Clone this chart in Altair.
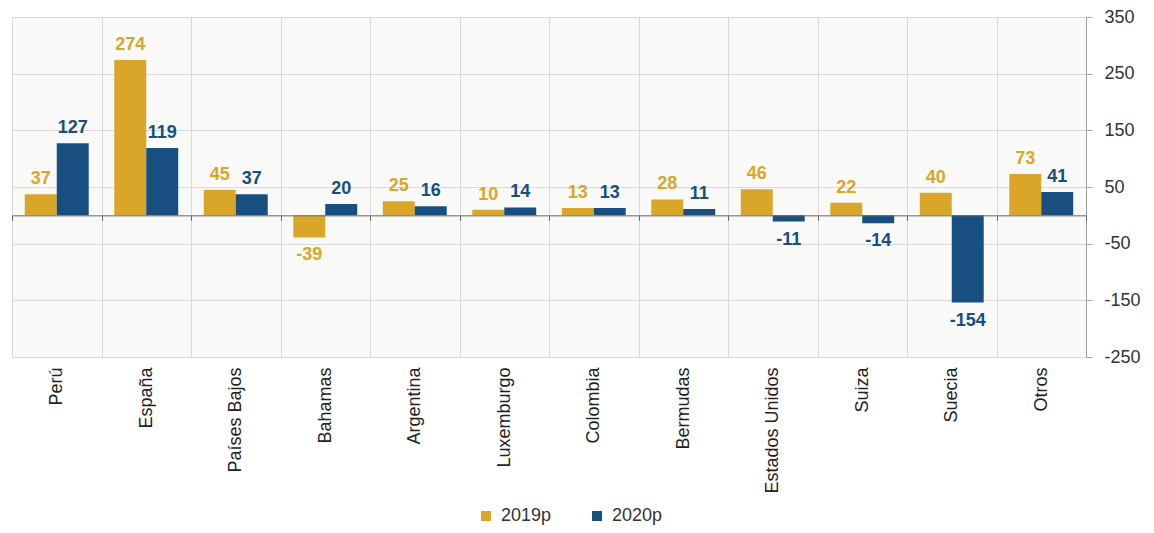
import altair as alt
import pandas as pd

countries = ["Perú", "España", "Países Bajos", "Bahamas", "Argentina", "Luxemburgo",
             "Colombia", "Bermudas", "Estados Unidos", "Suiza", "Suecia", "Otros"]
v2019 = [37, 274, 45, -39, 25, 10, 13, 28, 46, 22, 40, 73]
v2020 = [127, 119, 37, 20, 16, 14, 13, 11, -11, -14, -154, 41]
series = ["2019p", "2020p"]
colors = ["#D9A62A", "#174F80"]
y_ticks = [-250, -150, -50, 50, 150, 250, 350]

rows = []
for c, a, b in zip(countries, v2019, v2020):
    rows.append({"pais": c, "serie": series[0], "valor": a})
    rows.append({"pais": c, "serie": series[1], "valor": b})
df = pd.DataFrame(rows)

FONT = "Liberation Sans"
W, H = 1074, 340
zero_from_bottom = H * 250 / 600

xscale = alt.Scale(domain=countries, paddingInner=0, paddingOuter=0)
xoff_scale = alt.Scale(domain=series, paddingInner=0, paddingOuter=0.4)
yscale = alt.Scale(domain=[-250, 350], nice=False, zero=False)
cscale = alt.Scale(domain=series, range=colors)

color = alt.Color("serie:N", scale=cscale,
                  legend=alt.Legend(title=None, orient="none", legendX=465, legendY=490,
                                    direction="horizontal",
                                    symbolType="square", symbolSize=100,
                                    symbolStrokeWidth=0,
                                    labelFontSize=18, labelColor="#333333",
                                    labelFont=FONT, columnPadding=36, labelOffset=6))
y_axis = alt.Axis(orient="right", values=y_ticks, title=None, labelFontSize=18,
                  labelColor="#333333", labelFont=FONT, domainColor="#A0A0A0",
                  tickColor="#A0A0A0", tickSize=6, gridColor="#D9D9D9", labelPadding=12,
                  labelExpr="'' + datum.value")

base = alt.Chart(df).transform_calculate(lab="'' + datum.valor")

bars = base.mark_bar().encode(
    x=alt.X("pais:N", sort=countries, scale=xscale,
            axis=alt.Axis(title=None, labelAngle=-90, labelFontSize=18, labelFont=FONT,
                          labelColor="#222222", domain=False, ticks=False,
                          grid=True, gridColor="#D9D9D9", tickBand="extent",
                          labelPadding=10)),
    xOffset=alt.XOffset("serie:N", sort=series, scale=xoff_scale),
    y=alt.Y("valor:Q", scale=yscale, axis=y_axis),
    color=color,
)

pos = base.transform_filter("datum.valor >= 0").mark_text(
    baseline="alphabetic", dy=-10, fontSize=18, fontWeight="bold", font=FONT
).encode(
    x=alt.X("pais:N", sort=countries, scale=xscale,
            axis=alt.Axis(title=None, orient="bottom", offset=-zero_from_bottom,
                          labels=False, grid=False, domainColor="#666666",
                          tickColor="#666666", tickSize=5, tickBand="extent",
                          zindex=1)),
    xOffset=alt.XOffset("serie:N", sort=series, scale=xoff_scale),
    y=alt.Y("valor:Q", scale=yscale, axis=y_axis),
    text=alt.Text("lab:N"),
    color=alt.Color("serie:N", scale=cscale, legend=None),
)

neg = base.transform_filter("datum.valor < 0").mark_text(
    baseline="alphabetic", dy=23, fontSize=18, fontWeight="bold", font=FONT
).encode(
    x=alt.X("pais:N", sort=countries, scale=xscale, axis=None),
    xOffset=alt.XOffset("serie:N", sort=series, scale=xoff_scale),
    y=alt.Y("valor:Q", scale=yscale, axis=y_axis),
    text=alt.Text("lab:N"),
    color=alt.Color("serie:N", scale=cscale, legend=None),
)

chart = alt.layer(bars, pos, neg).resolve_scale(x="shared").resolve_axis(x="independent").properties(
    width=W, height=H, background="white",
    autosize=alt.AutoSizeParams(type="none"),
    padding={"left": 4, "top": 9, "right": 58, "bottom": 168},
).configure_view(fill="#F9F9F7", stroke="#D9D9D9")

chart.save("out.html", embed_options={"renderer": "svg", "actions": False})
